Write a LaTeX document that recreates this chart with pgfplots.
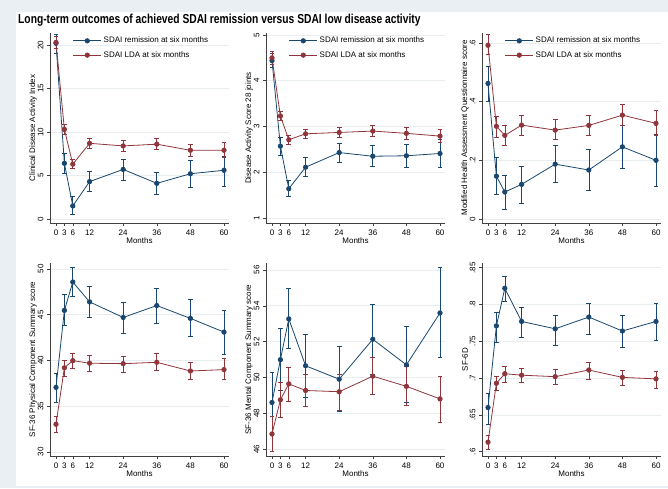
\documentclass[border=0pt]{standalone}
\usepackage{fontspec}
\setmainfont{Liberation Sans}
\usepackage{pgfplots}
\pgfplotsset{compat=1.18}

\definecolor{snavy}{RGB}{26,71,111}
\definecolor{smaroon}{RGB}{144,53,59}
\definecolor{bgc}{RGB}{233,239,242}
\definecolor{gridc}{RGB}{232,238,240}

\pgfplotsset{
  table/ci/.style={
    y error plus expr=\thisrow{hi}-\thisrow{y},
    y error minus expr=\thisrow{y}-\thisrow{lo}},
  ser/.style={color=#1, line width=0.8pt, mark=*, mark size=2.2pt,
    mark options={fill=#1, draw=#1, solid},
    error bars/.cd, y dir=both, y explicit,
    error bar style={line width=0.6pt, draw=#1},
    error mark=-,
    error mark options={rotate=90, draw=#1, line width=0.6pt, mark size=2.4pt}},
  stata/.style={
    scale only axis, anchor=south west,
    width=179pt,
    xmin=-2.14, xmax=61.79,
    axis x line*=bottom, axis y line*=left,
    axis line style={-, draw=black!75, line width=0.6pt},
    xtick={0,3,6,12,24,36,48,60},
    tick align=outside, major tick length=3pt,
    tick style={draw=black!75, line width=0.5pt},
    ymajorgrids, grid style={draw=gridc, line width=0.6pt},
    /pgf/number format/assume math mode=true,
    tick label style={font=\fontsize{8}{9}\selectfont},
    yticklabel style={rotate=90, anchor=south},
    label style={font=\fontsize{8}{9}\selectfont},
    xlabel={Months},
    xlabel style={at={(axis description cs:0.5,0)}, yshift=-18pt, anchor=center},
    ylabel style={at={(axis description cs:-0.095,0.5)}, anchor=center},
    clip=false,
  },
  toprow/.style={stata, height=190pt,
    legend style={at={(0.11,1)}, anchor=north west, draw=none, fill=none,
      font=\fontsize{8}{9}\selectfont, row sep=3pt},
    legend cell align=left,
    legend image code/.code={\draw[mark repeat=2, mark phase=2, #1]
      plot coordinates {(0pt,0pt) (14pt,0pt) (28pt,0pt)};}},
  botrow/.style={stata, height=193pt},
}

\begin{document}
\begin{tikzpicture}
\fill[bgc] (0,0) rectangle (668pt,488pt);
\fill[white] (16pt,2pt) rectangle (668pt,476pt);
\node[anchor=west, font=\fontsize{13}{15}\selectfont\bfseries, inner sep=0pt]
  at (18pt,468pt) {\scalebox{0.79}[1]{Long-term outcomes of achieved SDAI remission versus SDAI low disease activity}};

% CDAI
\begin{axis}[toprow, at={(50pt,265pt)}, ymin=-0.46, ymax=21.38,
  ytick={0,5,10,15,20}, ylabel={Clinical Disease Activity Index}]
\addplot[ser=snavy] table[ci] {
x y lo hi
0 20.2 19.1 21.2
3 6.4 5.3 7.6
6 1.5 0.5 2.6
12 4.3 3.2 5.5
24 5.7 4.5 6.9
36 4.1 2.8 5.4
48 5.2 3.7 6.7
60 5.6 3.8 7.2
};
\addplot[ser=smaroon] table[ci] {
x y lo hi
0 20.3 19.6 21.0
3 10.3 9.7 10.9
6 6.3 5.8 6.9
12 8.7 8.1 9.3
24 8.4 7.8 9.1
36 8.6 8.0 9.3
48 7.9 7.2 8.6
60 7.9 7.1 8.8
};
\legend{SDAI remission at six months, SDAI LDA at six months}
\end{axis}

% DAS28
\begin{axis}[toprow, at={(266pt,265pt)}, ymin=0.891, ymax=5.043,
  ytick={1,2,3,4,5}, ylabel={Disease Activity Score 28 joints}]
\addplot[ser=snavy] table[ci] {
x y lo hi
0 4.44 4.30 4.60
3 2.57 2.38 2.77
6 1.64 1.47 1.83
12 2.11 1.91 2.32
24 2.43 2.22 2.64
36 2.35 2.12 2.59
48 2.36 2.11 2.62
60 2.41 2.10 2.72
};
\addplot[ser=smaroon] table[ci] {
x y lo hi
0 4.50 4.36 4.65
3 3.23 3.13 3.33
6 2.71 2.62 2.80
12 2.84 2.74 2.94
24 2.87 2.77 2.98
36 2.90 2.79 3.02
48 2.85 2.73 2.98
60 2.79 2.65 2.93
};
\legend{SDAI remission at six months, SDAI LDA at six months}
\end{axis}

% MHAQ
\begin{axis}[toprow, at={(482pt,265pt)}, ymin=-0.0136, ymax=0.634,
  ytick={0,0.2,0.4,0.6}, yticklabels={0,.2,.4,.6},
  ylabel={Modified Health Assessment Questionnaire score}]
\addplot[ser=snavy] table[ci] {
x y lo hi
0 0.462 0.40 0.52
3 0.146 0.085 0.21
6 0.092 0.033 0.15
12 0.118 0.055 0.18
24 0.187 0.125 0.25
36 0.167 0.099 0.237
48 0.246 0.172 0.32
60 0.200 0.112 0.29
};
\addplot[ser=smaroon] table[ci] {
x y lo hi
0 0.592 0.56 0.63
3 0.316 0.28 0.35
6 0.285 0.25 0.32
12 0.320 0.285 0.355
24 0.303 0.27 0.34
36 0.319 0.284 0.355
48 0.354 0.318 0.39
60 0.326 0.285 0.37
};
\legend{SDAI remission at six months, SDAI LDA at six months}
\end{axis}

% SF-36 PCS
\begin{axis}[botrow, at={(50pt,32pt)}, ymin=29.56, ymax=50.65,
  ytick={30,35,40,45,50}, ylabel={SF-36 Physical Component Summary score}]
\addplot[ser=snavy] table[ci] {
x y lo hi
0 37.06 35.4 38.6
3 45.47 43.8 47.2
6 48.57 47.0 50.2
12 46.4 44.7 48.1
24 44.7 43.0 46.4
36 46.0 44.1 47.9
48 44.6 42.6 46.7
60 43.1 40.7 45.5
};
\addplot[ser=smaroon] table[ci] {
x y lo hi
0 33.03 32.2 33.9
3 39.2 38.3 40.0
6 39.98 39.1 40.8
12 39.7 38.8 40.6
24 39.65 38.7 40.5
36 39.8 38.9 40.8
48 38.85 37.9 39.8
60 39.0 37.9 40.2
};
\end{axis}

% SF-36 MCS
\begin{axis}[botrow, at={(266pt,32pt)}, ymin=45.61, ymax=56.39,
  ytick={46,48,50,52,54,56}, ylabel={SF-36 Mental Component Summary score}]
\addplot[ser=snavy] table[ci] {
x y lo hi
0 48.6 46.95 50.27
3 50.99 49.27 52.72
6 53.27 51.6 54.95
12 50.65 48.9 52.4
24 49.9 48.1 51.75
36 52.13 50.15 54.1
48 50.7 48.6 52.85
60 53.6 51.1 56.15
};
\addplot[ser=smaroon] table[ci] {
x y lo hi
0 46.84 45.85 47.8
3 48.75 47.75 49.75
6 49.64 48.67 50.57
12 49.27 48.37 50.19
24 49.2 48.15 50.2
36 50.07 49.05 51.1
48 49.5 48.45 50.6
60 48.8 47.5 50.05
};
\end{axis}

% SF-6D
\begin{axis}[botrow, at={(482pt,32pt)}, ymin=0.5942, ymax=0.8564,
  ytick={0.6,0.65,0.7,0.75,0.8,0.85}, yticklabels={.6,.65,.7,.75,.8,.85},
  ylabel={SF-6D}]
\addplot[ser=snavy] table[ci] {
x y lo hi
0 0.660 0.637 0.679
3 0.771 0.749 0.790
6 0.822 0.805 0.838
12 0.777 0.755 0.796
24 0.767 0.745 0.786
36 0.783 0.760 0.802
48 0.764 0.742 0.785
60 0.777 0.752 0.802
};
\addplot[ser=smaroon] table[ci] {
x y lo hi
0 0.613 0.603 0.622
3 0.693 0.683 0.703
6 0.706 0.695 0.716
12 0.704 0.694 0.714
24 0.702 0.691 0.712
36 0.711 0.699 0.721
48 0.701 0.690 0.711
60 0.699 0.686 0.709
};
\end{axis}
\end{tikzpicture}
\end{document}
